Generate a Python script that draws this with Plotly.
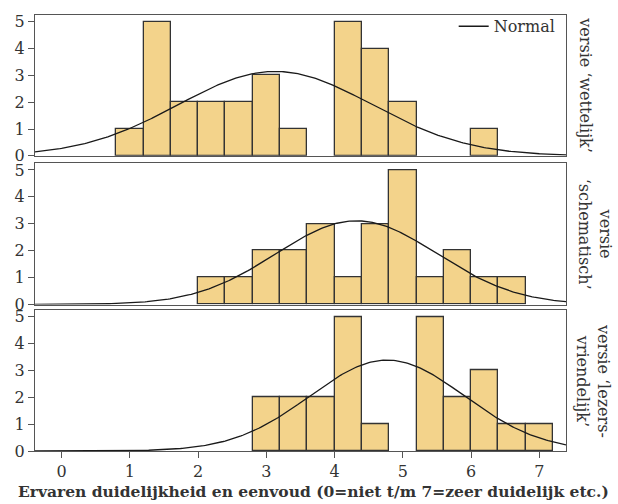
import numpy as np
import plotly.graph_objects as go

# ---- data ----
bin_width = 0.4
bins_wettelijk = [0.8, 1.2, 1.6, 2.0, 2.4, 2.8, 3.2, 4.0, 4.4, 4.8, 6.0]
counts_wettelijk = [1, 5, 2, 2, 2, 3, 1, 5, 4, 2, 1]

bins_schematisch = [2.0, 2.4, 2.8, 3.2, 3.6, 4.0, 4.4, 4.8, 5.2, 5.6, 6.0, 6.4]
counts_schematisch = [1, 1, 2, 2, 3, 1, 3, 5, 1, 2, 1, 1]

bins_vriendelijk = [2.8, 3.2, 3.6, 4.0, 4.4, 5.2, 5.6, 6.0, 6.4, 6.8]
counts_vriendelijk = [2, 2, 2, 5, 1, 5, 2, 3, 1, 1]

# fitted normal curve parameters
normal_mean = [3.13, 4.32, 4.77]
normal_sd = [1.42, 1.18, 1.13]

panel_labels = [
    "versie ‘wettelijk’",
    "versie<br>‘schematisch’",
    "versie ‘lezers-<br>vriendelijk’",
]
x_ticks = [0, 1, 2, 3, 4, 5, 6, 7]
y_ticks = [0, 1, 2, 3, 4, 5]
x_title = "Ervaren duidelijkheid en eenvoud (0=niet t/m 7=zeer duidelijk etc.)"

# ---- figure ----
FONT = "DejaVu Serif"
TXT = "#333333"
BAR = "#F3D38B"
EDGE = "#333333"
FRAME = "#555555"

panels = [
    (bins_wettelijk, counts_wettelijk),
    (bins_schematisch, counts_schematisch),
    (bins_vriendelijk, counts_vriendelijk),
]
domains = [[0.677, 1.0], [0.336, 0.660], [0.0, 0.323]]
xr = [-0.39, 7.39]

fig = go.Figure()
xs = np.linspace(xr[0], xr[1], 300)
for i, (b, c) in enumerate(panels):
    ax = "" if i == 0 else str(i + 1)
    fig.add_trace(go.Bar(
        x=b, y=c, width=bin_width, offset=0,
        marker=dict(color=BAR, line=dict(color=EDGE, width=1.3)),
        xaxis="x" + ax, yaxis="y" + ax, showlegend=False,
    ))
    n = sum(c)
    dens = n * bin_width / (normal_sd[i] * np.sqrt(2 * np.pi)) * np.exp(
        -0.5 * ((xs - normal_mean[i]) / normal_sd[i]) ** 2)
    fig.add_trace(go.Scatter(
        x=xs, y=dens, mode="lines", name="Normal",
        line=dict(color="#1a1a1a", width=1.3),
        xaxis="x" + ax, yaxis="y" + ax, showlegend=(i == 0),
    ))

layout = dict(
    width=618, height=504,
    margin=dict(l=35, r=52, t=9, b=53),
    paper_bgcolor="white", plot_bgcolor="white",
    bargap=0,
    font=dict(family=FONT, color=TXT, size=16),
    legend=dict(x=0.99, xanchor="right", y=1.013, yanchor="top",
                bgcolor="rgba(0,0,0,0)", font=dict(size=16, color=TXT),
                tracegroupgap=0, itemwidth=30),
    showlegend=True,
)
for i in range(3):
    ax = "" if i == 0 else str(i + 1)
    last = i == 2
    layout["xaxis" + ax] = dict(
        domain=[0, 1], range=xr, anchor="y" + ax,
        tickvals=x_ticks, showticklabels=last,
        ticks="outside" if last else "", ticklen=6, tickcolor=FRAME,
        showgrid=False, zeroline=False,
        showline=True, linecolor=FRAME, linewidth=1.2, mirror=True,
        tickfont=dict(size=16, color=TXT),
    )
    if i > 0:
        layout["xaxis" + ax]["matches"] = "x"
    layout["yaxis" + ax] = dict(
        domain=domains[i], range=[0, 5.25], anchor="x" + ax,
        tickvals=y_ticks, ticks="outside", ticklen=6, tickcolor=FRAME,
        showgrid=False, zeroline=False,
        showline=True, linecolor=FRAME, linewidth=1.2, mirror=True,
        tickfont=dict(size=16, color=TXT),
    )
fig.update_layout(**layout)

label_x = [1.036, 1.055, 1.052]
for i in range(3):
    d = domains[i]
    fig.add_annotation(
        xref="paper", yref="paper", x=label_x[i], y=(d[0] + d[1]) / 2,
        text=panel_labels[i], textangle=90, showarrow=False,
        xanchor="center", yanchor="middle",
        font=dict(size=16, color=TXT, family=FONT),
    )

# x-axis title (placed as annotation to match the reference's offset)
fig.add_annotation(
    xref="paper", yref="paper", x=0.5254, y=-0.094,
    text="<b>" + x_title + "</b>", showarrow=False,
    xanchor="center", yanchor="middle",
    font=dict(size=15.5, color=TXT, family=FONT),
)

fig.write_html("out.html", config={"displayModeBar": False},
               post_script="document.body.style.margin='0';document.body.style.overflow='hidden';")
